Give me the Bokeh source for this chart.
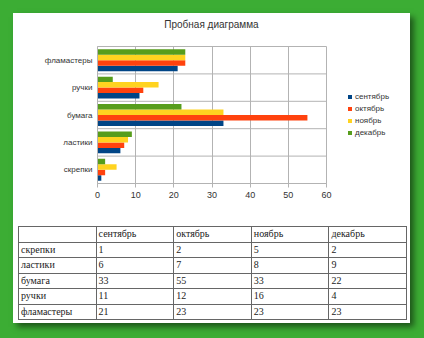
from bokeh.plotting import figure
from bokeh.models import Range1d, FactorRange, Legend, LegendItem, Span, FixedTicker, ColumnDataSource, Div
from bokeh.transform import dodge
from bokeh.layouts import column, row
from bokeh.embed import file_html
from bokeh.resources import INLINE

title = "Пробная диаграмма"
categories = ["скрепки", "ластики", "бумага", "ручки", "фламастеры"]
months = ["сентябрь", "октябрь", "ноябрь", "декабрь"]
sep_vals = [1, 6, 33, 11, 21]
oct_vals = [2, 7, 55, 12, 23]
nov_vals = [5, 8, 33, 16, 23]
dec_vals = [2, 9, 22, 4, 23]
x_ticks = [0, 10, 20, 30, 40, 50, 60]
colors = ["#004586", "#ff420e", "#ffd320", "#579d1c"]

series = [sep_vals, oct_vals, nov_vals, dec_vals]
keys = ["m0", "m1", "m2", "m3"]
data = dict(cat=categories)
for k, s in zip(keys, series):
    data[k] = s
src = ColumnDataSource(data)

SANS = "Liberation Sans"
GRID = "#b3b3b3"
yrange = FactorRange(factors=categories, range_padding=0)

title_div = Div(text=f"<div style=\"width:397px;text-align:center;font-family:'Liberation Sans',sans-serif;"
                     f"font-size:10px;color:#333;line-height:24px;\">{title}</div>",
                width=397, height=24, margin=(0, 0, 0, 0))

p = figure(width=321, height=186, output_backend="svg", toolbar_location=None,
           y_range=yrange, x_range=Range1d(x_ticks[0], x_ticks[-1]),
           min_border_left=84, min_border_right=8, min_border_top=9, min_border_bottom=40)
p.border_fill_color = "white"
p.background_fill_color = "white"
p.outline_line_color = GRID

n = len(keys)
for i, (k, c) in enumerate(zip(keys, colors)):
    p.hbar(y=dodge("cat", (i - (n - 1) / 2) * 0.2, range=p.y_range), left=0, right=k,
           height=0.2, fill_color=c, line_color=None, source=src)

for b in range(1, len(categories)):
    p.add_layout(Span(location=b, dimension="width", line_color=GRID, line_width=1))

p.ygrid.visible = False
p.xgrid.grid_line_color = GRID
p.xaxis.ticker = FixedTicker(ticks=x_ticks)
p.xaxis.minor_tick_line_color = None
p.xaxis.major_tick_in = 0
p.xaxis.major_tick_out = 4
p.axis.major_tick_line_color = GRID
p.yaxis.major_tick_line_color = None
p.yaxis.major_tick_out = 0
p.yaxis.major_tick_in = 0
p.axis.axis_line_color = GRID
p.axis.major_label_text_font = SANS
p.axis.major_label_text_color = "#333333"
p.xaxis.major_label_text_font_size = "9px"
p.yaxis.major_label_text_font_size = "8px"
p.xaxis.major_label_standoff = 4
p.yaxis.major_label_standoff = 5

# legend panel: hidden copies of the bars serve as legend proxies
q = figure(width=76, height=186, output_backend="svg", toolbar_location=None,
           x_range=Range1d(x_ticks[0], x_ticks[-1]), y_range=yrange,
           min_border_left=0, min_border_right=0, min_border_top=9, min_border_bottom=40)
q.axis.visible = False
q.grid.visible = False
q.outline_line_color = None
q.border_fill_color = "white"
q.background_fill_color = "white"
proxies = []
for i, (k, c) in enumerate(zip(keys, colors)):
    r = q.hbar(y=dodge("cat", (i - (n - 1) / 2) * 0.2, range=q.y_range), left=0, right=k,
               height=0.2, fill_color=c, line_color=None, source=src, visible=False)
    proxies.append(r)
legend = Legend(items=[LegendItem(label=m, renderers=[r]) for m, r in zip(months, proxies)],
                location=(13, 46), orientation="vertical")
legend.border_line_color = None
legend.background_fill_alpha = 0
legend.inactive_fill_alpha = 0
legend.padding = 2
legend.margin = 0
legend.spacing = 2
legend.glyph_width = 5
legend.glyph_height = 5
legend.label_height = 10
legend.label_standoff = 3
legend.label_text_font = SANS
legend.label_text_font_size = "8px"
legend.label_text_color = "#333333"
q.add_layout(legend, "center")

# table (HTML, built from the same arrays)
cell = ("border:1.5px solid #666;padding:0 0 0 2px;height:15.5px;box-sizing:border-box;"
        "width:20%;text-align:left;vertical-align:middle;white-space:nowrap;")
rows = ["<tr>" + f"<td style='{cell}'></td>" + "".join(f"<td style='{cell}'>{m}</td>" for m in months) + "</tr>"]
for i, c in enumerate(categories):
    rows.append("<tr>" + f"<td style='{cell}'>{c}</td>" +
                "".join(f"<td style='{cell}'>{s[i]}</td>" for s in series) + "</tr>")
html = ("<table style=\"border-collapse:collapse;border:1.5px solid #666;width:389px;table-layout:fixed;"
        "margin:3px 0 0 5px;font-family:'Liberation Serif',serif;font-size:10px;color:#222;line-height:12px;\">"
        + "".join(rows) + "</table>")
t = Div(text=html, width=397, height=100, margin=(0, 0, 0, 0))

card = column(title_div, row(p, q), t, margin=(13, 0, 0, 13),
              styles={"background-color": "white", "box-shadow": "4px 4px 6px rgba(0,0,0,0.5)"})
page = column(card, width=424, height=338, styles={"background-color": "#3cad34"})

open("out.html", "w").write(file_html(page, INLINE))
